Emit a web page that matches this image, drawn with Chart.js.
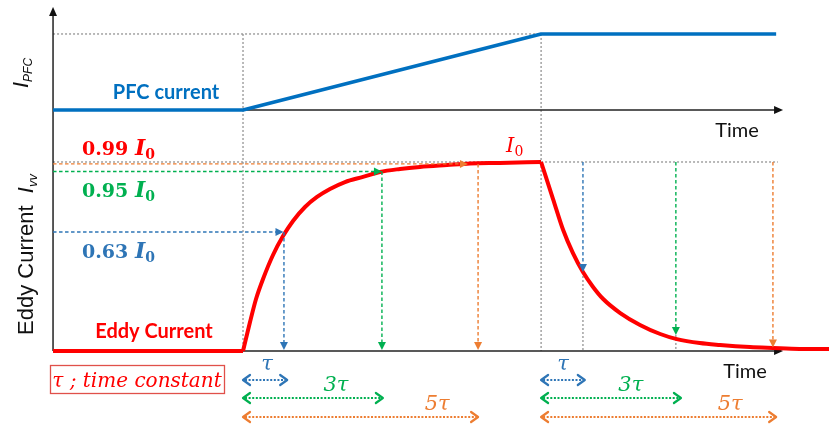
<!DOCTYPE html>
<html>
<head>
<meta charset="utf-8">
<script src="https://cdn.jsdelivr.net/npm/chart.js@4/dist/chart.umd.min.js"></script>
<style>
  html, body { margin: 0; padding: 0; background: #fff; }
  #wrap { width: 829px; height: 427px; }
</style>
</head>
<body>
<div id="wrap"><canvas id="c" width="829" height="427"></canvas></div>
<script>
// Time is measured in units of the time constant, from the start of the PFC ramp.
const pfcTime  = [-4.13, 0, 6.48, 11.59];
const pfcValue = [0, 0, 1, 1];

// Eddy current, as a fraction of I0
const eddyBaseTime  = [-4.13, 0];
const eddyBaseValue = [0, 0];
const eddyRiseTime  = [0, 0.152, 0.283, 0.435, 0.652, 0.87, 1.087, 1.348, 1.609, 1.891, 2.217, 2.609, 2.978, 3.413, 3.848, 4.435, 4.935, 5.587, 6.48];
const eddyRiseValue = [0, 0.153, 0.275, 0.381, 0.508, 0.608, 0.688, 0.762, 0.815, 0.857, 0.894, 0.921, 0.947, 0.963, 0.974, 0.984, 0.992, 0.995, 1.0];
const eddyDecayTime  = [6.48, 6.74, 6.96, 7.17, 7.39, 7.61, 7.83, 8.20, 8.63, 9.07, 9.43, 9.93, 10.37, 11.02, 11.52, 12.10, 12.74];
const eddyDecayValue = [1.0, 0.804, 0.64, 0.519, 0.418, 0.339, 0.275, 0.201, 0.138, 0.09, 0.063, 0.042, 0.032, 0.021, 0.016, 0.011, 0.01];

// Reference levels reached after tau, 3 tau and 5 tau
const levelNames  = ['0.63', '0.95', '0.99'];
const levelValues = [0.63, 0.95, 0.99];
const levelColors = ['#2e75b6', '#00b050', '#ed7d31'];
const levelTextColors = ['#2e75b6', '#00b050', '#ff0000'];
const riseHitTime   = [0.88, 3.02, 4.89];
const riseMarkTime  = [0.89, 3.02, 5.11];
const decayMarkTime  = [7.39, 9.41, 11.52];
const decayMarkValue = [0.418, 0.085, 0.018];

// Interval arrows under the time axis
const spanLabels     = ['τ', '3τ', '5τ'];
const riseSpanEnd    = [0.96, 3.04, 5.11];
const decaySpanEnd   = [7.43, 9.52, 11.59];
const riseLabelTime  = [0.52, 2.02, 4.22];
const decayLabelTime = [6.96, 8.43, 10.59];

const axisStart = -4.13, axisEnd = 11.74;
const rampStart = 0, rampEnd = 6.48;
const levelGuideEnd = 11.63;

const pts = (ts, vs) => ts.map((t, i) => ({ x: t, y: vs[i] }));

function seg(ctx, x1, y1, x2, y2) {
  ctx.beginPath(); ctx.moveTo(x1, y1); ctx.lineTo(x2, y2); ctx.stroke();
}
function headFilled(ctx, x1, y1, x2, y2, len, half, color) {
  const a = Math.atan2(y2 - y1, x2 - x1);
  ctx.save();
  ctx.setLineDash([]);
  ctx.fillStyle = color;
  ctx.beginPath();
  ctx.moveTo(x2, y2);
  ctx.lineTo(x2 - len * Math.cos(a) + half * Math.sin(a), y2 - len * Math.sin(a) - half * Math.cos(a));
  ctx.lineTo(x2 - len * Math.cos(a) - half * Math.sin(a), y2 - len * Math.sin(a) + half * Math.cos(a));
  ctx.closePath(); ctx.fill();
  ctx.restore();
}
function dashedArrow(ctx, x1, y1, x2, y2, color) {
  ctx.save();
  ctx.strokeStyle = color; ctx.lineWidth = 1.4; ctx.setLineDash([3.5, 2.5]);
  const a = Math.atan2(y2 - y1, x2 - x1);
  seg(ctx, x1, y1, x2 - 6 * Math.cos(a), y2 - 6 * Math.sin(a));
  headFilled(ctx, x1, y1, x2, y2, 8, 4, color);
  ctx.restore();
}
function chevron(ctx, x, y, dir) {
  ctx.beginPath();
  ctx.moveTo(x - dir * 7, y - 5); ctx.lineTo(x, y); ctx.lineTo(x - dir * 7, y + 5);
  ctx.stroke();
}
function spanArrow(ctx, x1, x2, y, color) {
  ctx.save();
  ctx.strokeStyle = color; ctx.lineWidth = 2;
  ctx.setLineDash([2, 1.6]);
  seg(ctx, x1 + 2, y, x2 - 2, y);
  ctx.setLineDash([]); ctx.lineWidth = 2.2; ctx.lineJoin = 'round'; ctx.lineCap = 'round';
  chevron(ctx, x1, y, -1);
  chevron(ctx, x2, y, 1);
  ctx.restore();
}
// draws a run of differently styled text pieces: [text, font, color, dy]
function rich(ctx, x, y, parts, align) {
  let w = 0;
  parts.forEach(p => { ctx.font = p[1]; w += ctx.measureText(p[0]).width; });
  let cx = align === 'center' ? x - w / 2 : (align === 'right' ? x - w : x);
  ctx.textBaseline = 'alphabetic'; ctx.textAlign = 'left';
  parts.forEach(p => {
    ctx.font = p[1]; ctx.fillStyle = p[2];
    ctx.fillText(p[0], cx, y + (p[3] || 0));
    cx += ctx.measureText(p[0]).width;
  });
}

const diagram = {
  id: 'diagram',
  beforeDatasetsDraw(chart) {
    const { ctx, scales: { x, yPFC, yEddy } } = chart;
    const X = v => x.getPixelForValue(v), P = v => yPFC.getPixelForValue(v), E = v => yEddy.getPixelForValue(v);

    // grey dotted guides
    ctx.save();
    ctx.strokeStyle = '#8a8a8a'; ctx.lineWidth = 1.2; ctx.setLineDash([2, 2]);
    seg(ctx, X(axisStart), P(1), X(rampEnd), P(1));
    seg(ctx, X(rampStart), P(1), X(rampStart), E(0));
    seg(ctx, X(rampEnd), P(1), X(rampEnd), E(0));
    seg(ctx, X(axisStart), E(1), X(levelGuideEnd), E(1));
    decayMarkTime.forEach((t, i) => seg(ctx, X(t), E(decayMarkValue[i]), X(t), E(0)));
    ctx.restore();

    // axes
    ctx.save();
    ctx.strokeStyle = '#222'; ctx.lineWidth = 1.5;
    const x0 = X(axisStart), x1 = X(axisEnd);
    seg(ctx, x0, E(0), x0, 14);
    headFilled(ctx, x0, 20, x0, 7, 9, 4, '#111');
    seg(ctx, x0, P(0), x1 - 6, P(0));
    headFilled(ctx, x0, P(0), x1, P(0), 9, 4, '#111');
    seg(ctx, x0, E(0), x1 - 6, E(0));
    headFilled(ctx, x0, E(0), x1, E(0), 9, 4, '#111');
    ctx.restore();
  },
  afterDatasetsDraw(chart) {
    const { ctx, scales: { x, yPFC, yEddy } } = chart;
    const X = v => x.getPixelForValue(v), P = v => yPFC.getPixelForValue(v), E = v => yEddy.getPixelForValue(v);

    // level arrows during the rise
    levelValues.forEach((lv, i) => {
      dashedArrow(ctx, X(axisStart), E(lv), X(riseHitTime[i]), E(lv), levelColors[i]);
      dashedArrow(ctx, X(riseMarkTime[i]), E(lv), X(riseMarkTime[i]), E(0) - 1, levelColors[i]);
    });
    // decay arrows from I0 down to the curve
    decayMarkTime.forEach((t, i) => {
      dashedArrow(ctx, X(t), E(1), X(t), E(decayMarkValue[i]), levelColors[i]);
    });

    // interval arrows and their labels
    const rows = [380, 398, 417];
    const labelBase = [370, 391, 410];
    spanLabels.forEach((s, i) => {
      spanArrow(ctx, X(rampStart), X(riseSpanEnd[i]), rows[i], levelColors[i]);
      spanArrow(ctx, X(rampEnd), X(decaySpanEnd[i]), rows[i], levelColors[i]);
      const f = 'italic 21px "DejaVu Serif"';
      rich(ctx, X(riseLabelTime[i]), labelBase[i], [[s, f, levelColors[i]]], 'center');
      rich(ctx, X(decayLabelTime[i]), labelBase[i], [[s, f, levelColors[i]]], 'center');
    });

    // level labels
    const offs = [26, 25.5, -9];
    levelNames.forEach((n, i) => {
      const c = levelTextColors[i];
      rich(ctx, 82, E(levelValues[i]) + offs[i], [
        [n + ' ', 'bold 19px "DejaVu Serif"', c],
        ['I', 'bold italic 22px "DejaVu Serif"', c],
        ['0', 'bold 14px "DejaVu Serif"', c, 4]
      ], 'left');
    });
    rich(ctx, X(rampEnd) - 35, E(1) - 10, [
      ['I', 'italic 21px "DejaVu Serif"', '#ff0000'],
      ['0', '14px "DejaVu Serif"', '#ff0000', 4]
    ], 'left');

    // series captions
    rich(ctx, 166, 99, [['PFC current', 'bold 20px Lato', '#0070c0']], 'center');
    rich(ctx, 154, 338, [['Eddy Current', 'bold 20px Lato', '#ff0000']], 'center');
    rich(ctx, 737, 137, [['Time', '20px Lato', '#111']], 'center');
    rich(ctx, 745, 378, [['Time', '20px Lato', '#111']], 'center');

    // time constant note
    ctx.save();
    ctx.strokeStyle = '#e0504a'; ctx.lineWidth = 1.3;
    ctx.strokeRect(50.5, 365.5, 174, 28);
    ctx.restore();
    rich(ctx, 137, 387, [['τ ; time constant', 'italic 20px "DejaVu Serif"', '#ff0000']], 'center');

    // vertical axis titles
    ctx.save();
    ctx.translate(28, 88); ctx.rotate(-Math.PI / 2);
    rich(ctx, 0, 0, [
      ['I', 'italic 22px "Liberation Sans"', '#111'],
      ['PFC', 'italic 12px "Liberation Sans"', '#111', 4]
    ], 'left');
    ctx.restore();
    ctx.save();
    ctx.translate(33, 335); ctx.rotate(-Math.PI / 2);
    rich(ctx, 0, 0, [
      ['Eddy Current  ', '22px "Liberation Sans"', '#111'],
      ['I', 'italic 22px "Liberation Sans"', '#111'],
      ['vv', 'italic 13px "Liberation Sans"', '#111', 4]
    ], 'left');
    ctx.restore();
  }
};

new Chart(document.getElementById('c'), {
  type: 'line',
  data: {
    datasets: [
      { label: 'PFC current', data: pts(pfcTime, pfcValue), yAxisID: 'yPFC',
        borderColor: '#0070c0', borderWidth: 3.5, pointRadius: 0, tension: 0, borderJoinStyle: 'round' },
      { label: 'Eddy Current', data: pts(eddyBaseTime, eddyBaseValue), yAxisID: 'yEddy',
        borderColor: '#ff0000', borderWidth: 4, pointRadius: 0, tension: 0 },
      { label: 'Eddy Current rise', data: pts(eddyRiseTime, eddyRiseValue), yAxisID: 'yEddy',
        borderColor: '#ff0000', borderWidth: 4, pointRadius: 0, cubicInterpolationMode: 'monotone' },
      { label: 'Eddy Current decay', data: pts(eddyDecayTime, eddyDecayValue), yAxisID: 'yEddy',
        borderColor: '#ff0000', borderWidth: 4, pointRadius: 0, cubicInterpolationMode: 'monotone' }
    ]
  },
  options: {
    responsive: false,
    animation: false,
    events: [],
    layout: { padding: 0 },
    plugins: { legend: { display: false }, tooltip: { enabled: false } },
    scales: {
      x: { type: 'linear', min: -5.283, max: 12.739, display: false },
      yPFC: { type: 'linear', min: -4.171, max: 1.447, display: false },
      yEddy: { type: 'linear', min: -0.402, max: 1.857, display: false }
    }
  },
  plugins: [diagram]
});
</script>
</body>
</html>
